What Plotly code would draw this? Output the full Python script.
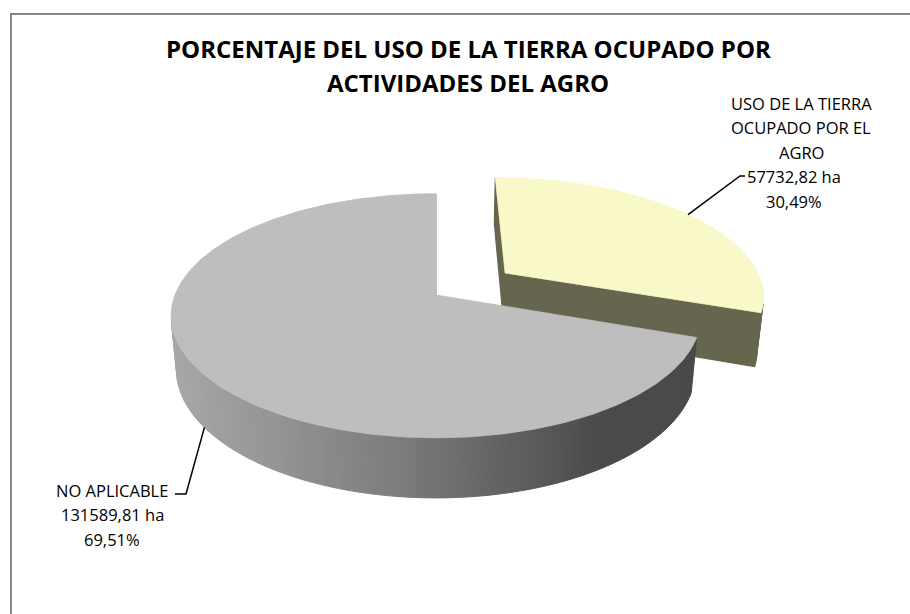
import numpy as np
import plotly.graph_objects as go

# ---------------- data ----------------
categories = ["USO DE LA TIERRA<br>OCUPADO POR EL<br>AGRO", "NO APLICABLE"]
hectares = [57732.82, 131589.81]
unit = "ha"
title_lines = ["PORCENTAJE DEL USO DE LA TIERRA OCUPADO POR", "ACTIVIDADES DEL AGRO"]

# ---------------- style ----------------
top_colors = ["#F8F8C8", "#BEBEBE"]
face_colors = ["#66664E", "#9A9A9A"]
explode = [0.334, 0.0]
side_stops = [
    [(0, (102, 102, 78)), (910, (102, 102, 78))],
    [(172, (168, 168, 168)), (390, (126, 126, 126)), (600, (74, 74, 74)), (910, (72, 72, 72))],
]
LABEL_FONT = "Open Sans"
TITLE_FONT = "Open Sans"

W, H = 910, 614
TILT = np.radians(27.0)
DIST = 5.24
FOCAL = 1368.0
CX, CY = 436.0, 295.0
THICK = 0.232
cT, sT = np.cos(TILT), np.sin(TILT)
CAM = np.array([0.0, -DIST * cT, DIST * sT])


def proj(X, Y, Z):
    X = np.asarray(X, float); Y = np.asarray(Y, float); Z = np.asarray(Z, float)
    d = DIST + Y * cT - Z * sT
    up = Y * sT + Z * cT
    return CX + FOCAL * X / d, CY - FOCAL * up / d


def side_color(i, x):
    st = side_stops[i]
    xs = [s[0] for s in st]
    rgb = [int(round(np.interp(x, xs, [s[1][k] for s in st]))) for k in range(3)]
    return "rgb(%d,%d,%d)" % tuple(rgb)


fig = go.Figure()


def poly(xs, ys, color, lw=1.0):
    xs = list(np.atleast_1d(xs)); ys = list(np.atleast_1d(ys))
    fig.add_trace(go.Scatter(
        x=xs + [xs[0]], y=ys + [ys[0]], mode="lines", fill="toself",
        fillcolor=color, line=dict(color=color, width=lw),
        hoverinfo="skip", showlegend=False))


total = float(sum(hectares))
fracs = [v / total for v in hectares]
bounds = np.concatenate([[0.0], np.cumsum(fracs)]) * 2 * np.pi

slices = []
for i in range(len(hectares)):
    a0, a1 = bounds[i], bounds[i + 1]
    mid = 0.5 * (a0 + a1)
    off = np.array([explode[i] * np.sin(mid), explode[i] * np.cos(mid)])
    slices.append((i, a0, a1, mid, off))

# back-to-front: farther slices (larger Y offset) first
order = sorted(slices, key=lambda s: -s[4][1])

for (i, a0, a1, mid, off) in order:
    ox, oy = off
    # radial faces
    for ang, sign in ((a0, -1.0), (a1, 1.0)):
        n = sign * np.array([np.cos(ang), -np.sin(ang)])
        vis = (CAM[0] - ox) * n[0] + (CAM[1] - oy) * n[1]
        if vis >= -1e-9:
            rx, ry = ox + np.sin(ang), oy + np.cos(ang)
            px, py = proj([ox, rx, rx, ox], [oy, ry, ry, oy], [0, 0, -THICK, -THICK])
            poly(px, py, face_colors[i], lw=1.2)
    # outer rim strips
    nstep = max(8, int(np.degrees(a1 - a0) / 1.5))
    angs = np.linspace(a0, a1, nstep + 1)
    for k in range(nstep):
        p, q = angs[k], angs[k + 1]
        m = 0.5 * (p + q)
        vis = -DIST * cT * np.cos(m) - (ox * np.sin(m) + oy * np.cos(m)) - 1.0
        if vis <= 0:
            continue
        X = [ox + np.sin(p), ox + np.sin(q), ox + np.sin(q), ox + np.sin(p)]
        Y = [oy + np.cos(p), oy + np.cos(q), oy + np.cos(q), oy + np.cos(p)]
        Z = [0, 0, -THICK, -THICK]
        px, py = proj(X, Y, Z)
        poly(px, py, side_color(i, float(np.mean(px))), lw=1.0)
    # top surface
    ta = np.linspace(a0, a1, max(12, int(np.degrees(a1 - a0))))
    X = np.concatenate([[ox], ox + np.sin(ta)])
    Y = np.concatenate([[oy], oy + np.cos(ta)])
    px, py = proj(X, Y, np.zeros_like(X))
    poly(px, py, top_colors[i], lw=0.8)

# ---------------- labels & leaders ----------------
label_name_x = [801, 112]
label_value_x = [794, 112]
label_y0 = [103, 490]
line_step = 24.5
leader_elbow = [(740, 176), (186, 494)]
leader_tick = [(745, 176), (175, 494)]
leader_z = [0.0, -THICK]

annotations = []
shapes = []
for (i, a0, a1, mid, off) in slices:
    name_lines = categories[i].split("<br>")
    val = ("%.2f" % hectares[i]).replace(".", ",") + " " + unit
    pct = ("%.2f" % (100 * fracs[i])).replace(".", ",") + "%"
    lines = name_lines + [val, pct]
    for j, t in enumerate(lines):
        xx = label_name_x[i] if j < len(name_lines) else label_value_x[i]
        annotations.append(dict(
            x=xx, y=label_y0[i] + j * line_step, xref="x", yref="y", text=t,
            showarrow=False, xanchor="center", yanchor="middle",
            font=dict(family=LABEL_FONT, size=16.5, color="#000000")))
    ax, ay = proj(off[0] + np.sin(mid), off[1] + np.cos(mid), leader_z[i])
    ex, ey = leader_elbow[i]
    tx, ty = leader_tick[i]
    fig.add_trace(go.Scatter(
        x=[float(ax), ex, tx], y=[float(ay), ey, ty], mode="lines",
        line=dict(color="#000000", width=1.5), hoverinfo="skip", showlegend=False))

title_y = [48, 82]
for j, t in enumerate(title_lines):
    annotations.append(dict(
        x=468, y=title_y[j], xref="x", yref="y", text="<b>%s</b>" % t,
        showarrow=False, xanchor="center", yanchor="middle",
        font=dict(family=TITLE_FONT, size=24, color="#000000")))

# chart border (only top & left edges visible in the crop)
shapes.append(dict(type="line", xref="x", yref="y", x0=10, y0=14, x1=912, y1=14,
                   line=dict(color="#878787", width=2)))
shapes.append(dict(type="line", xref="x", yref="y", x0=11, y0=13, x1=11, y1=616,
                   line=dict(color="#878787", width=2)))

fig.update_layout(
    width=W, height=H, margin=dict(l=0, r=0, t=0, b=0),
    paper_bgcolor="#FFFFFF", plot_bgcolor="#FFFFFF",
    xaxis=dict(range=[0, W], visible=False, fixedrange=True),
    yaxis=dict(range=[H, 0], visible=False, fixedrange=True),
    annotations=annotations, shapes=shapes, showlegend=False,
)

fig.write_html("out.html", config={"displayModeBar": False},
               post_script="document.body.style.margin='0';document.body.style.overflow='hidden';")
